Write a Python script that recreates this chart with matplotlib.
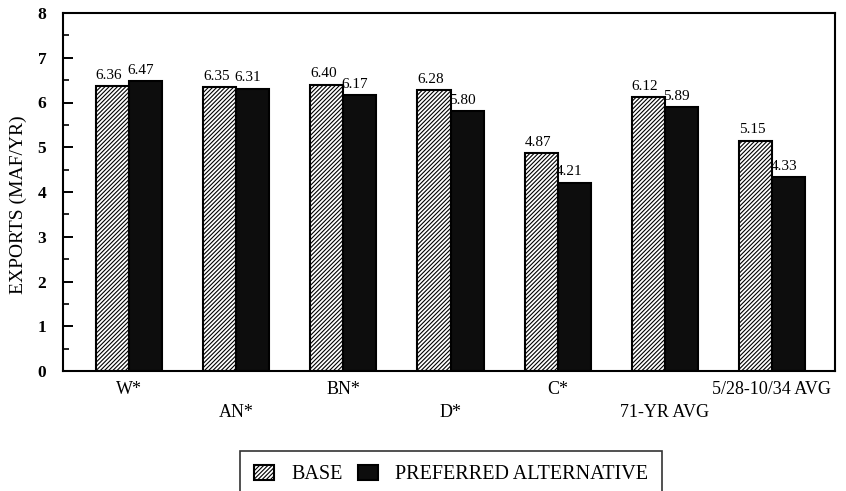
import numpy as np
import matplotlib
matplotlib.use("Agg")
import matplotlib.pyplot as plt

categories = ["W*", "AN*", "BN*", "D*", "C*", "71-YR AVG", "5/28-10/34 AVG"]
base = [6.36, 6.35, 6.40, 6.28, 4.87, 6.12, 5.15]
preferred = [6.47, 6.31, 6.17, 5.80, 4.21, 5.89, 4.33]
series_names = ["BASE", "PREFERRED ALTERNATIVE"]
y_ticks = [0, 1, 2, 3, 4, 5, 6, 7, 8]

plt.rcParams["font.family"] = ["Liberation Serif", "DejaVu Serif"]
plt.rcParams["hatch.linewidth"] = 0.8

fig = plt.figure(figsize=(8.46, 4.91), dpi=100)
ax = fig.add_axes([63 / 846, 1 - 371 / 491, (835 - 63) / 846, (371 - 13) / 491])

x = np.arange(len(categories))
w = 0.308
b1 = ax.bar(x - w / 2, base, w, facecolor="white", edgecolor="black",
            hatch="/" * 8, linewidth=1.5, label=series_names[0])
b2 = ax.bar(x + w / 2, preferred, w, facecolor="#0d0d0d", edgecolor="black",
            linewidth=1.5, label=series_names[1])

# value labels above the bars
for xi, v in zip(x - w / 2, base):
    ax.annotate(f"{v:.2f}", (xi, v), xytext=(-2.5, 3), textcoords="offset points",
                ha="center", va="bottom", fontsize=11)
for xi, v in zip(x + w / 2, preferred):
    ax.annotate(f"{v:.2f}", (xi, v), xytext=(-3.5, 3), textcoords="offset points",
                ha="center", va="bottom", fontsize=11)

# staggered category labels
for i, name in enumerate(categories):
    dy = -13.5 if i % 2 == 0 else -30
    ax.annotate(name, (i, 0), xycoords=("data", "axes fraction"), xytext=(0, dy),
                textcoords="offset points", ha="center", va="center", fontsize=13)

ax.set_xlim(-0.616, 6.588)
ax.set_ylim(0, 8)
ax.set_xticks([])
ax.set_yticks(y_ticks)
ax.set_yticks(np.arange(0.5, 8, 1), minor=True)
ax.tick_params(axis="y", which="major", direction="in", length=7, width=1.4,
               pad=12, labelsize=12.5)
ax.tick_params(axis="y", which="minor", direction="in", length=4, width=1.2)
for lab in ax.get_yticklabels():
    lab.set_fontweight("bold")
for s in ax.spines.values():
    s.set_linewidth(1.5)

fig.text(18 / 846, 1 - 205 / 491, "EXPORTS (MAF/YR)", rotation=90,
         ha="center", va="center", fontsize=14)

leg = fig.legend(handles=[b1, b2], loc="upper left",
                 bbox_to_anchor=(240 / 846, 1 - 451 / 491), ncol=2,
                 fontsize=14.5, frameon=True, fancybox=False, edgecolor="black",
                 handlelength=1.0, handleheight=0.75, handletextpad=0.85,
                 columnspacing=0.75, borderpad=0.7, borderaxespad=0)
leg.get_frame().set_linewidth(1.2)

fig.savefig("out.png", dpi=100)
